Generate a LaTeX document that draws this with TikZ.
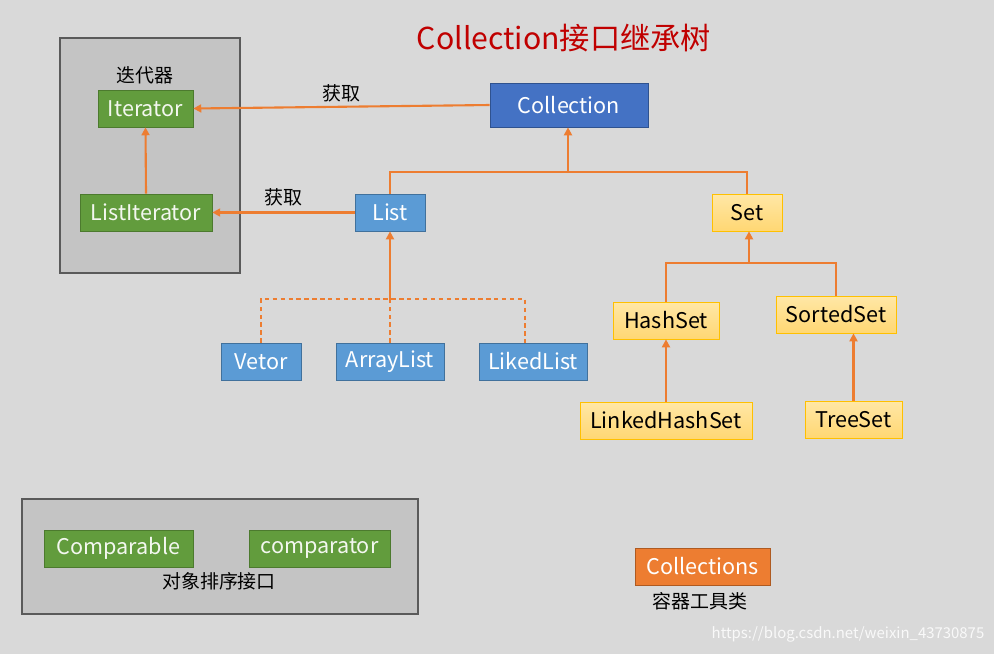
\documentclass[tikz,border=0pt]{standalone}
\usepackage{fontspec}
\setmainfont{Noto Sans CJK SC}
\usetikzlibrary{arrows.meta}
\definecolor{bgGray}{HTML}{D9D9D9}
\definecolor{panelGray}{HTML}{C4C4C4}
\definecolor{panelLine}{HTML}{5A5A5A}
\definecolor{lineOrange}{HTML}{ED7D31}
\definecolor{itGreen}{HTML}{629C3D}
\definecolor{itGreenLine}{HTML}{4C7A2E}
\definecolor{collBlue}{HTML}{4472C4}
\definecolor{collBlueLine}{HTML}{2F528F}
\definecolor{listBlue}{HTML}{5B9BD5}
\definecolor{listBlueLine}{HTML}{41719C}
\definecolor{setTop}{HTML}{FFE7A6}
\definecolor{setBottom}{HTML}{FFD773}
\definecolor{setLine}{HTML}{FFC000}
\definecolor{toolLine}{HTML}{AE5A21}
\definecolor{titleRed}{HTML}{C00000}
\begin{document}
\begin{tikzpicture}[
  x=0.02cm, y=-0.02cm,
  box/.style={rectangle, minimum height=0.74cm, inner sep=0pt, font=\fontsize{12.3}{14}\selectfont},
  iterbox/.style={box, fill=itGreen, draw=itGreenLine, text=white!92!itGreen},
  listbox/.style={box, fill=listBlue, draw=listBlueLine, text=white},
  setbox/.style={box, top color=setTop, bottom color=setBottom, draw=setLine, text=black},
  panel/.style={fill=panelGray, draw=panelLine, line width=1.2pt},
  link/.style={draw=lineOrange, line width=1.2pt},
  getarrow/.style={link, -{Triangle[length=4.5pt,width=4.5pt]}},
  dashlink/.style={draw=lineOrange, line width=0.7pt, dash pattern=on 2.5pt off 2pt},
  note/.style={font=\fontsize{10.8}{12}\selectfont, text=black}
]
\fill[bgGray] (0,0) rectangle (994,654);

% panels
\draw[panel] (60,38) rectangle (240,273);
\draw[panel] (22,499) rectangle (418,614);

\node[text=titleRed, font=\fontsize{17.2}{19}\selectfont] (title) at (564,38) {Collection接口继承树};

% iterators
\node[note] (iterlabel) at (145,75) {迭代器};
\node[iterbox, minimum width=1.9cm] (iter) at (145.5,108.5) {Iterator};
\node[iterbox, minimum width=2.64cm] (listiter) at (146,212.5) {ListIterator};

% collection tree
\node[box, fill=collBlue, draw=collBlueLine, text=white, minimum width=3.16cm, minimum height=0.88cm] (coll) at (569,105) {Collection};
\node[listbox, minimum width=1.4cm] (list) at (390,212.5) {List};
\node[setbox, minimum width=1.4cm] (set) at (747,212.5) {Set};

\node[listbox, minimum width=1.6cm] (vetor) at (261,361.5) {Vetor};
\node[listbox, minimum width=2.16cm] (arraylist) at (390,361.5) {ArrayList};
\node[listbox, minimum width=2.16cm] (likedlist) at (533,361.5) {LikedList};

\node[setbox, minimum width=2.12cm] (hashset) at (666,320.5) {HashSet};
\node[setbox, minimum width=2.4cm] (sortedset) at (836,314.5) {SortedSet};
\node[setbox, minimum width=3.44cm] (linkedhashset) at (666,420.5) {LinkedHashSet};
\node[setbox, minimum width=1.94cm] (treeset) at (853.5,419.5) {TreeSet};

% sorting and tools
\node[iterbox, minimum width=2.98cm] (comparable) at (118.5,548.5) {Comparable};
\node[iterbox, minimum width=2.82cm] (comparator) at (319.5,548.5) {comparator};
\node[note] (sortlabel) at (219,581) {对象排序接口};

\node[box, fill=lineOrange, draw=toolLine, text=white, minimum width=2.7cm] (tools) at (702.5,566.5) {Collections};
\node[note] (toollabel) at (700,601) {容器工具类};

\node[text=white!85!bgGray, font=\fontsize{8.5}{10}\selectfont] (mark) at (848,634) {https://blog.csdn.net/weixin\_43730875};

% connectors
\coordinate (listjoin) at (568,172);
\coordinate (setjoin) at (749,263);
\coordinate (listfan) at (390,299);

\draw[getarrow] (coll.west) -- node[note, midway, above, yshift=-1pt] {获取} (iter.east);
\draw[getarrow] (list.west) -- node[note, midway, above] {获取} (listiter.east);
\draw[getarrow] (listiter.north) -- (iter.south);

\draw[link] (list.north) |- (listjoin) -| (set.north);
\draw[getarrow] (listjoin) -- (listjoin |- coll.south);

\draw[dashlink] (vetor.north) |- (listfan) -| ([xshift=-0.16cm]likedlist.north);
\draw[dashlink] (arraylist.north) -- (listfan);
\draw[getarrow] (listfan) -- (list.south);

\draw[link] (hashset.north) |- (setjoin) -| (sortedset.north);
\draw[getarrow] (setjoin) -- (setjoin |- set.south);

\draw[getarrow] (linkedhashset.north) -- (hashset.south);
\draw[getarrow] (treeset.north) -- (treeset |- sortedset.south);
\end{tikzpicture}
\end{document}
